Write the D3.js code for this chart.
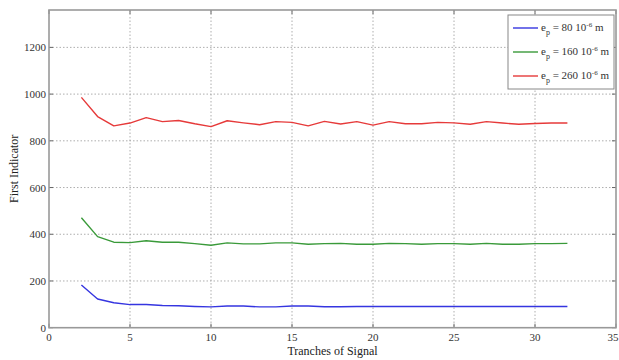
<!DOCTYPE html>
<html lang="en">
<head>
    <meta charset="UTF-8">
    <title>First Indicator vs Tranches of Signal</title>
    <script src="https://d3js.org/d3.v7.min.js"></script>
    <style>
        body {
            margin: 0;
            background: #fff;
            font-family: "Liberation Serif", "DejaVu Serif", serif;
        }
        .grid line {
            stroke: #999;
            stroke-width: 0.8;
            stroke-dasharray: 1.5 2;
        }
        .tick-label {
            font-size: 11px;
            fill: #333;
        }
        .axis-label {
            font-size: 12px;
            fill: #222;
        }
        .legend-text {
            font-size: 11px;
            fill: #333;
        }
    </style>
</head>
<body>
    <svg id="chart" width="619" height="360"></svg>

    <script>
        // Data
        const tranches = d3.range(2, 33);

        const ep80 = [183, 123, 107, 99, 99, 95, 94, 91, 89, 93, 93, 89, 89, 93, 93, 90,
                      90, 91, 91, 91, 91, 91, 91, 91, 91, 91, 91, 91, 91, 91, 91];
        const ep160 = [471, 390, 366, 364, 372, 366, 366, 360, 353, 363, 359, 359, 363, 363, 357, 360,
                       361, 357, 357, 361, 360, 357, 360, 360, 357, 361, 357, 357, 360, 360, 361];
        const ep260 = [986, 904, 864, 876, 899, 882, 887, 873, 861, 886, 877, 869, 882, 879, 864, 883,
                       872, 882, 867, 882, 873, 873, 879, 877, 871, 882, 876, 871, 874, 876, 876];

        const seriesNames = ["80", "160", "260"];
        const seriesColors = ["#3535e0", "#3a9a3a", "#e63a3a"];
        const xTicks = [0, 5, 10, 15, 20, 25, 30, 35];
        const yTicks = [0, 200, 400, 600, 800, 1000, 1200];

        const series = [ep80, ep160, ep260].map((vals, i) => ({
            name: seriesNames[i],
            color: seriesColors[i],
            points: vals.map((v, j) => [tranches[j], v])
        }));

        // Layout
        const plotLeft = 49, plotRight = 616, plotTop = 10, plotBottom = 327.7;
        const svg = d3.select("#chart");

        const x = d3.scaleLinear().domain([0, 35]).range([plotLeft, plotRight]);
        const y = d3.scaleLinear().domain([0, 1360]).range([plotBottom, plotTop]);

        // Grid lines
        const grid = svg.append("g").attr("class", "grid");
        grid.selectAll(".vx")
            .data(xTicks.slice(1, -1))
            .enter().append("line")
            .attr("x1", d => x(d)).attr("x2", d => x(d))
            .attr("y1", plotTop).attr("y2", plotBottom);
        grid.selectAll(".hy")
            .data(yTicks.slice(1))
            .enter().append("line")
            .attr("x1", plotLeft).attr("x2", plotRight)
            .attr("y1", d => y(d)).attr("y2", d => y(d));

        // Inward ticks on all four sides, matlab style
        const tickLen = 4;
        const ticks = svg.append("g").attr("stroke", "#666").attr("stroke-width", 1);
        xTicks.forEach(t => {
            ticks.append("line").attr("x1", x(t)).attr("x2", x(t)).attr("y1", plotBottom).attr("y2", plotBottom - tickLen);
            ticks.append("line").attr("x1", x(t)).attr("x2", x(t)).attr("y1", plotTop).attr("y2", plotTop + tickLen);
        });
        yTicks.forEach(t => {
            ticks.append("line").attr("x1", plotLeft).attr("x2", plotLeft + tickLen).attr("y1", y(t)).attr("y2", y(t));
            ticks.append("line").attr("x1", plotRight).attr("x2", plotRight - tickLen).attr("y1", y(t)).attr("y2", y(t));
        });

        // Plot lines
        const line = d3.line().x(d => x(d[0])).y(d => y(d[1]));
        svg.selectAll(".series")
            .data(series)
            .enter().append("path")
            .attr("class", "series")
            .attr("d", d => line(d.points))
            .attr("fill", "none")
            .attr("stroke", d => d.color)
            .attr("stroke-width", 1.4)
            .attr("stroke-linejoin", "round");

        // Frame
        svg.append("rect")
            .attr("x", plotLeft).attr("y", plotTop)
            .attr("width", plotRight - plotLeft).attr("height", plotBottom - plotTop)
            .attr("fill", "none")
            .attr("stroke", "#999")
            .attr("stroke-width", 1.6);

        // Tick labels (the last one, 35, sits at the picture edge as in the source)
        svg.selectAll(".xl")
            .data(xTicks)
            .enter().append("text")
            .attr("class", "tick-label")
            .attr("x", d => d === 35 ? x(d) - 3 : x(d))
            .attr("y", plotBottom + 13)
            .attr("text-anchor", "middle")
            .text(d => d);

        svg.selectAll(".yl")
            .data(yTicks)
            .enter().append("text")
            .attr("class", "tick-label")
            .attr("x", plotLeft - 3)
            .attr("y", d => y(d) + 4)
            .attr("text-anchor", "end")
            .text(d => d);

        // Axis titles
        svg.append("text")
            .attr("class", "axis-label")
            .attr("x", x(17.5))
            .attr("y", 355)
            .attr("text-anchor", "middle")
            .text("Tranches of Signal");

        svg.append("text")
            .attr("class", "axis-label")
            .attr("transform", `translate(18, ${(plotTop + plotBottom) / 2}) rotate(-90)`)
            .attr("text-anchor", "middle")
            .text("First Indicator");

        // Legend
        const legend = svg.append("g").attr("transform", "translate(508, 15)");
        legend.append("rect")
            .attr("width", 106).attr("height", 74)
            .attr("fill", "#fff")
            .attr("stroke", "#888")
            .attr("stroke-width", 1);

        series.forEach((s, i) => {
            const ly = 13 + i * 24;
            legend.append("line")
                .attr("x1", 5).attr("x2", 30)
                .attr("y1", ly).attr("y2", ly)
                .attr("stroke", s.color)
                .attr("stroke-width", 1.4);
            const t = legend.append("text")
                .attr("class", "legend-text")
                .attr("x", 33)
                .attr("y", ly + 3);
            t.append("tspan").text("e");
            t.append("tspan").attr("dy", 4).attr("font-size", "8px").text("p");
            t.append("tspan").attr("dy", -4).text(" = " + s.name + " 10");
            t.append("tspan").attr("dy", -4).attr("font-size", "7px").text("-6");
            t.append("tspan").attr("dy", 4).text(" m");
        });
    </script>
</body>
</html>
